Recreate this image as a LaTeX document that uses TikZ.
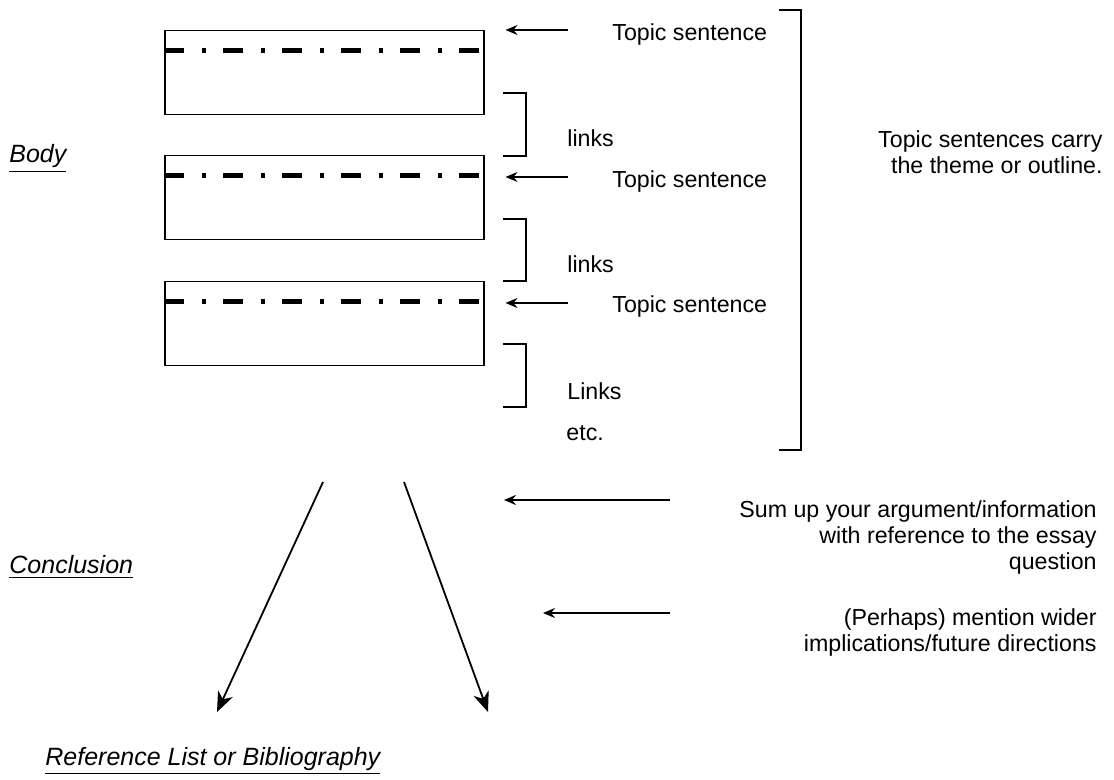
\documentclass[tikz,border=0pt]{standalone}
\usepackage{fontspec}
\setmainfont{Liberation Sans}
\usetikzlibrary{arrows.meta}

\begin{document}
\begin{tikzpicture}[x=0.5pt,y=-0.5pt,>={Stealth[length=6pt,width=5pt,inset=2pt]},
    parabox/.style={draw,line width=0.75pt,minimum width=159.5pt,minimum height=42pt,
      anchor=north west,inner sep=0pt},
    topicline/.style={line width=2.5pt,dash pattern=on 10pt off 9pt on 2pt off 8.5pt},
    txt/.style={inner sep=0pt,font=\fontsize{11.6}{13}\selectfont},
    head/.style={inner sep=0pt,anchor=base west,font=\fontsize{12.5}{15}\selectfont\itshape},
    bracket/.style={line width=0.75pt},
    pointer/.style={->,line width=0.9pt},
    bigpointer/.style={-{Stealth[length=10pt,width=8pt,inset=3pt]},line width=0.9pt}]
    \useasboundingbox (0,0) rectangle (1114,780);

    % paragraphs
    \node[parabox] (box1) at (164,30)  {};
    \node[parabox] (box2) at (164,155) {};
    \node[parabox] (box3) at (164,281) {};
    \foreach \b in {box1,box2,box3}
      \draw[topicline] ([yshift=-10.5pt]\b.north west) -- ([xshift=-2.5pt,yshift=-10.5pt]\b.north east);

    % topic sentences
    \node[txt,anchor=west] (ts1) at (612,35)  {Topic sentence};
    \node[txt,anchor=west] (ts2) at (612,182) {Topic sentence};
    \node[txt,anchor=west] (ts3) at (612,307) {Topic sentence};
    \draw[pointer] ([shift={(-22pt,2.5pt)}]ts1.west) -- ([shift={(10.5pt,2.5pt)}]ts1.west -| box1.east);
    \draw[pointer] ([shift={(-22pt,2.5pt)}]ts2.west) -- ([shift={(10.5pt,2.5pt)}]ts2.west -| box2.east);
    \draw[pointer] ([shift={(-22pt,2pt)}]ts3.west) -- ([shift={(10.5pt,2pt)}]ts3.west -| box3.east);

    % links
    \node[txt,anchor=west] (lk1) at (567,138) {links};
    \node[txt,anchor=west] (lk2) at (567,264) {links};
    \node[txt,anchor=west] (lk3) at (567,391) {Links};
    \node[txt,anchor=west] (etc) at (566,433) {etc.};
    \foreach \t/\b in {93/156,219/281,344/407}
      \draw[bracket] (503,\t) -| (526,\b) -- (503,\b);
    \draw[bracket] (779,10) -| (801,450) -- (779,450);
    \node[txt,align=right,anchor=east] (theme) at (1103,152) {Topic sentences carry\\the theme or outline.};

    % conclusion
    \node[txt,align=right,anchor=east] (sum) at (1097,538)
      {Sum up your argument/information\\with reference to the essay\\question};
    \node[txt,align=right,anchor=east] (wider) at (1097,633)
      {(Perhaps) mention wider\\implications/future directions};
    \coordinate (sum tail) at (670,500);
    \coordinate (sum tip) at (504,500);
    \coordinate (wider tail) at (670,613);
    \coordinate (wider tip) at (543,613);
    \draw[pointer] (sum tail) -- (sum tip);
    \draw[pointer] (wider tail) -- (wider tip);

    \coordinate (split l) at (323,482);
    \coordinate (split r) at (404,482);
    \coordinate (end l) at (217,712);
    \coordinate (end r) at (488,712);
    \draw[bigpointer] (split l) -- (end l);
    \draw[bigpointer] (split r) -- (end r);

    % headings
    \node[head] (body)  at (9,163) {\underline{Body}};
    \node[head] (concl) at (9,574) {\underline{Conclusion}};
    \node[head] (refs)  at (45,765) {\underline{Reference List or Bibliography}};
\end{tikzpicture}
\end{document}
